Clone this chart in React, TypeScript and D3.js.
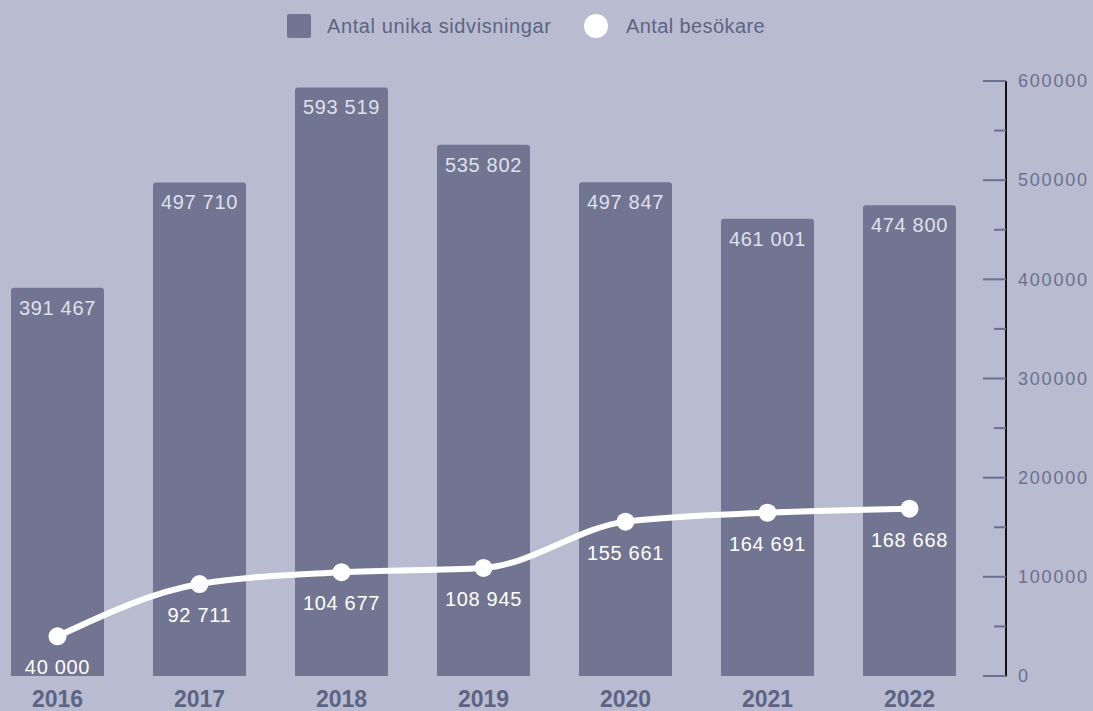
import React, { useEffect, useRef } from "react";
import * as d3 from "d3";

const years = ["2016", "2017", "2018", "2019", "2020", "2021", "2022"];
const pageViews = [391467, 497710, 593519, 535802, 497847, 461001, 474800];
const visitors = [40000, 92711, 104677, 108945, 155661, 164691, 168668];
const yTicks = [0, 100000, 200000, 300000, 400000, 500000, 600000];
const yMinorTicks = [50000, 150000, 250000, 350000, 450000, 550000];
const legendLabels = ["Antal unika sidvisningar", "Antal besökare"];

const W = 1093;
const H = 711;
const BG = "#b9bcd0";
const BAR = "#727591";
const FONT = "'Liberation Sans', Arial, sans-serif";

const fmt = (v: number) => d3.format(",")(v).replace(/,/g, " ");

export default function App() {
  const ref = useRef<SVGSVGElement>(null);

  useEffect(() => {
    const svg = d3.select(ref.current);
    svg.selectAll("*").remove();

    const x = d3.scaleBand<string>()
      .domain(years)
      .range([-13.5, 980.5])
      .paddingInner(0.345)
      .paddingOuter(0.1725);
    const y = d3.scaleLinear().domain([0, 600000]).range([676, 81]);

    svg.append("rect").attr("width", W).attr("height", H).attr("fill", BG);

    // bars (rounded top, bottom corners hidden below baseline)
    svg.append("g").selectAll("rect")
      .data(pageViews)
      .enter().append("rect")
      .attr("x", (d, i) => x(years[i])!)
      .attr("width", x.bandwidth())
      .attr("y", (d) => y(d))
      .attr("height", (d) => y(0) - y(d) + 3)
      .attr("rx", 3)
      .attr("fill", BAR);

    svg.append("rect").attr("x", 0).attr("y", y(0)).attr("width", 990).attr("height", 10).attr("fill", BG);

    svg.append("g").selectAll("text")
      .data(pageViews)
      .enter().append("text")
      .attr("x", (d, i) => x(years[i])! + x.bandwidth() / 2)
      .attr("y", (d) => y(d) + 27)
      .attr("text-anchor", "middle")
      .attr("font-family", FONT)
      .attr("font-size", 20)
      .attr("letter-spacing", 0.7)
      .attr("fill", "#dfe0ec")
      .text((d) => fmt(d));

    // visitors line
    const pts: [number, number][] = visitors.map((v, i) => [x(years[i])! + x.bandwidth() / 2, y(v)]);
    const line = d3.line().curve(d3.curveMonotoneX);
    svg.append("path")
      .attr("d", line(pts))
      .attr("fill", "none")
      .attr("stroke", "white")
      .attr("stroke-width", 6);

    svg.append("g").selectAll("circle")
      .data(pts)
      .enter().append("circle")
      .attr("cx", (d) => d[0])
      .attr("cy", (d) => d[1])
      .attr("r", 9)
      .attr("fill", "white");

    svg.append("g").selectAll("text")
      .data(visitors)
      .enter().append("text")
      .attr("x", (d, i) => x(years[i])! + x.bandwidth() / 2)
      .attr("y", (d) => y(d) + 38)
      .attr("text-anchor", "middle")
      .attr("font-family", FONT)
      .attr("font-size", 20)
      .attr("letter-spacing", 0.7)
      .attr("fill", "white")
      .text((d) => fmt(d));

    // year labels
    svg.append("g").selectAll("text")
      .data(years)
      .enter().append("text")
      .attr("x", (d) => x(d)! + x.bandwidth() / 2)
      .attr("y", 707)
      .attr("text-anchor", "middle")
      .attr("font-family", FONT)
      .attr("font-size", 23)
      .attr("font-weight", "bold")
      .attr("fill", "#5d6483")
      .text((d) => d);

    // right axis
    const ax = 1006;
    svg.append("line")
      .attr("x1", ax).attr("x2", ax)
      .attr("y1", y(600000)).attr("y2", y(0) + 0.5)
      .attr("stroke", "#111").attr("stroke-width", 2);
    svg.append("g").selectAll("line")
      .data(yTicks)
      .enter().append("line")
      .attr("x1", ax - 23).attr("x2", ax)
      .attr("y1", (d) => y(d)).attr("y2", (d) => y(d))
      .attr("stroke", "#6a7091").attr("stroke-width", 2);
    svg.append("g").selectAll("line")
      .data(yMinorTicks)
      .enter().append("line")
      .attr("x1", ax - 12).attr("x2", ax)
      .attr("y1", (d) => y(d)).attr("y2", (d) => y(d))
      .attr("stroke", "#6a7091").attr("stroke-width", 2);
    svg.append("g").selectAll("text")
      .data(yTicks)
      .enter().append("text")
      .attr("x", ax + 12)
      .attr("y", (d) => y(d))
      .attr("dy", "0.35em")
      .attr("font-family", FONT)
      .attr("font-size", 18)
      .attr("letter-spacing", 1.8)
      .attr("fill", "#6a7091")
      .text((d) => String(d));

    // legend
    const lg = svg.append("g").attr("font-family", FONT).attr("font-size", 20).attr("letter-spacing", 0.6).attr("fill", "#5d6483");
    lg.append("rect").attr("x", 287).attr("y", 14).attr("width", 24).attr("height", 24).attr("rx", 2).attr("fill", BAR);
    lg.append("text").attr("x", 327).attr("y", 33).text(legendLabels[0]);
    lg.append("circle").attr("cx", 596).attr("cy", 26).attr("r", 12).attr("fill", "white");
    lg.append("text").attr("x", 626).attr("y", 33).attr("letter-spacing", 0.4).text(legendLabels[1]);
  }, []);

  return (
    <div style={{ position: "fixed", left: 0, top: 0 }}>
      <svg ref={ref} width={W} height={H} style={{ display: "block" }} />
    </div>
  );
}
